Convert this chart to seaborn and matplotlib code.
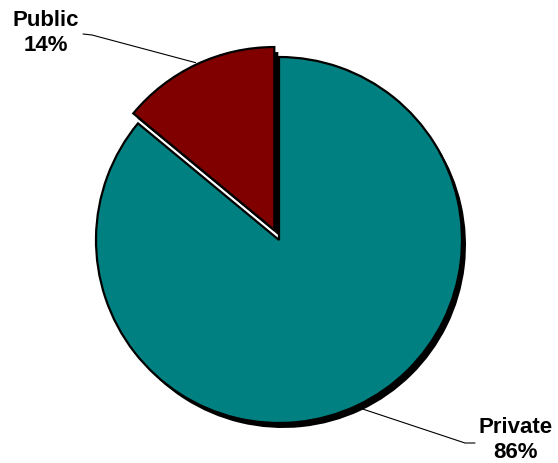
import numpy as np
import matplotlib
matplotlib.use("Agg")
import matplotlib.pyplot as plt
import seaborn as sns

# Ownership split (percent)
sectors = ["Public", "Private"]
shares = [14, 86]
slice_colors = ["#800000", "#008080"]

sns.set_theme(style="white")
plt.rcParams["font.family"] = ["Liberation Sans", "DejaVu Sans"]
palette = sns.color_palette(slice_colors)

W, H = 558, 463
fig = plt.figure(figsize=(W / 100, H / 100), dpi=100)
ax = fig.add_axes([0, 0, 1, 1])

center = (279, 223)
radius = 183
explode = [11, 0]

# drop shadow: same pie in black, shifted down-right
ax.pie(shares, colors=["black", "black"], startangle=90, counterclock=True,
       explode=explode, center=(center[0] + 4, center[1] - 5), radius=radius,
       wedgeprops=dict(linewidth=0), frame=True)

wedges, _ = ax.pie(shares, colors=palette, startangle=90, counterclock=True,
                   explode=explode, center=center, radius=radius,
                   wedgeprops=dict(edgecolor="black", linewidth=1.6), frame=True)
ax.set_xlim(0, W)
ax.set_ylim(0, H)
ax.set_aspect("equal")
ax.axis("off")

# label placement: (elbow, line end, text centre)
label_layout = {
    "Public": ((92, 428), (83, 429), (46, 430)),
    "Private": ((465, 20), (475, 20), (516, 23)),
}

for w, name, share in zip(wedges, sectors, shares):
    mid = np.deg2rad((w.theta1 + w.theta2) / 2)
    ax_x = w.center[0] + (w.r + 2) * np.cos(mid)
    ax_y = w.center[1] + (w.r + 2) * np.sin(mid)
    elbow, end, txt = label_layout[name]
    ax.plot([ax_x, elbow[0], end[0]], [ax_y, elbow[1], end[1]],
            color="black", linewidth=0.8)
    ax.text(txt[0], txt[1], f"{name}\n{share}%", ha="center", va="center",
            multialignment="center", fontsize=16, fontweight="bold",
            linespacing=1.3, color="black")

fig.savefig("out.png", dpi=100)
